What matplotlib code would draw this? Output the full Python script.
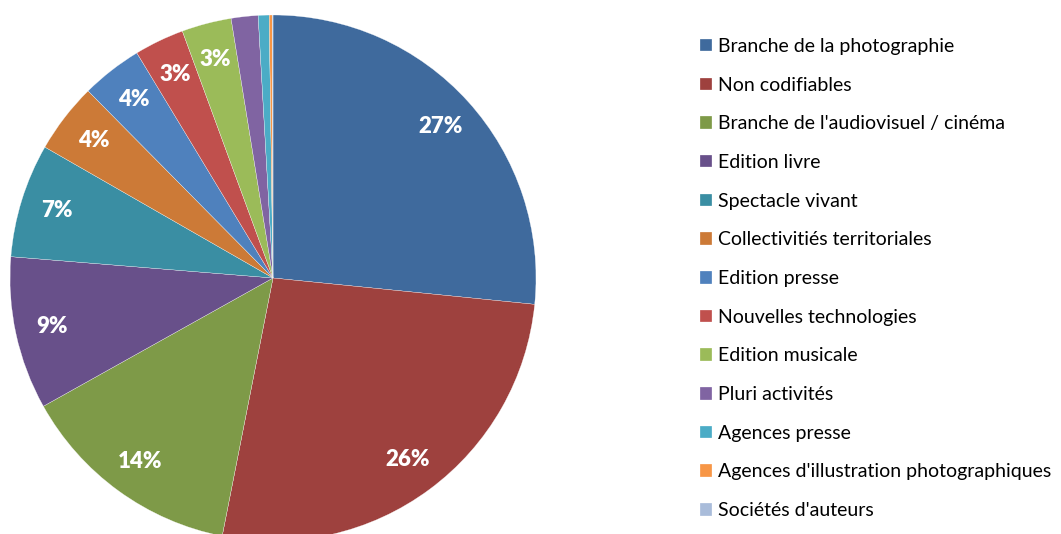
import matplotlib
matplotlib.use("Agg")
import matplotlib.pyplot as plt

labels = ["Branche de la photographie", "Non codifiables", "Branche de l'audiovisuel / cinéma",
          "Edition livre", "Spectacle vivant", "Collectivitiés territoriales", "Edition presse",
          "Nouvelles technologies", "Edition musicale", "Pluri activités", "Agences presse",
          "Agences d'illustration photographiques", "Sociétés d'auteurs"]
values = [26.6, 26.5, 13.8, 9.4, 7.0, 4.3, 3.75, 3.06, 3.05, 1.65, 0.67, 0.18, 0.05]
colors = ["#3F6A9D", "#9E413E", "#7E9A48", "#68508A", "#3A8EA3", "#CC7A37",
          "#4F81BD", "#C0504D", "#9BBB59", "#8064A2", "#4BACC6", "#F79646", "#A9BCDA"]

W, H = 1061, 534
fig = plt.figure(figsize=(W / 100, H / 100), dpi=100)
cx, cy, R = 273, 278, 263
ax = fig.add_axes([(cx - R) / W, 1 - (cy + R) / H, 2 * R / W, 2 * R / H])
ax.set_xlim(-1, 1)
ax.set_ylim(-1, 1)
ax.set_aspect("equal")
ax.axis("off")

def fmt(p):
    return f"{p:.0f}%" if p >= 2.5 else ""

wedges, texts, autotexts = ax.pie(values, colors=colors, startangle=90, counterclock=False,
                                  radius=1, autopct=fmt, pctdistance=0.86,
                                  wedgeprops=dict(edgecolor="white", linewidth=0.2),
                                  textprops=dict(color="white", fontsize=16, fontweight="heavy",
                                                 family="Lato"))
ax.set_xlim(-1, 1)
ax.set_ylim(-1, 1)

fig.legend(wedges, labels, loc="upper left", bbox_to_anchor=(700 / W, 1 - 38 / H),
           frameon=False, prop=dict(family="Lato", size=14),
           handlelength=0.62, handleheight=0.62, handletextpad=0.3, labelspacing=1.115,
           borderpad=0, borderaxespad=0)

fig.savefig("out.png", dpi=100)
